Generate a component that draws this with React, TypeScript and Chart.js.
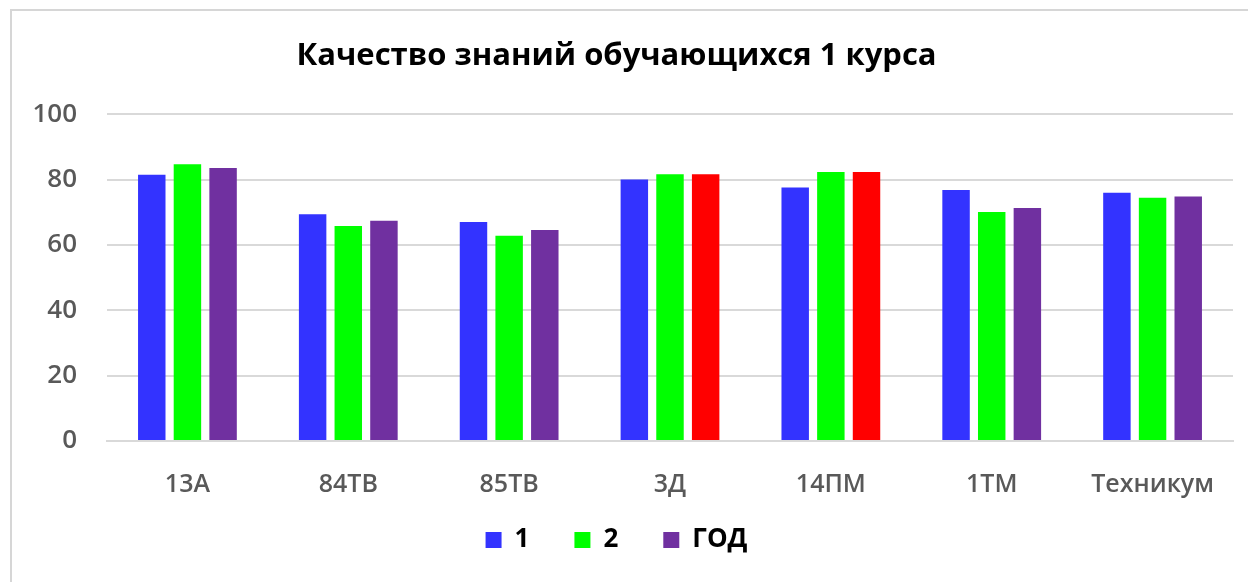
import React, { useEffect, useRef } from "react";
import { Chart, registerables } from "chart.js";

Chart.register(...registerables);

const title = "Качество знаний обучающихся 1 курса";
const categories = ["13А", "84ТВ", "85ТВ", "3Д", "14ПМ", "1ТМ", "Техникум"];
const seriesNames = ["1", "2", "ГОД"];
const series1 = [81.5, 69.4, 67.0, 80.0, 77.6, 76.8, 76.0];
const series2 = [84.7, 65.8, 62.8, 81.6, 82.3, 70.1, 74.4];
const seriesYear = [83.5, 67.4, 64.6, 81.6, 82.3, 71.3, 74.8];
const yTicks = [0, 20, 40, 60, 80, 100];

const BLUE = "#3333FF";
const GREEN = "#00FF00";
const PURPLE = "#7030A0";
const RED = "#FF0000";
const yearColors = [PURPLE, PURPLE, PURPLE, RED, RED, PURPLE, PURPLE];

export default function App() {
  const ref = useRef<HTMLCanvasElement | null>(null);

  useEffect(() => {
    if (!ref.current) return;
    const font = "'Open Sans', 'DejaVu Sans', sans-serif";
    const chart = new Chart(ref.current, {
      type: "bar",
      data: {
        labels: categories,
        datasets: [
          { label: seriesNames[0], data: series1, backgroundColor: BLUE },
          { label: seriesNames[1], data: series2, backgroundColor: GREEN },
          { label: seriesNames[2], data: seriesYear, backgroundColor: yearColors },
        ],
      },
      options: {
        responsive: false,
        animation: false,
        devicePixelRatio: 1,
        layout: { padding: { left: 0, right: 15, top: 0, bottom: 19 } },
        datasets: {
          bar: { categoryPercentage: 0.665, barPercentage: 0.77 },
        },
        plugins: {
          title: {
            display: true,
            text: title,
            color: "#000000",
            font: { family: font, size: 31, weight: "bold" },
            padding: { top: 38, bottom: 39 },
          },
          legend: {
            position: "bottom",
            labels: {
              color: "#000000",
              font: { family: font, size: 26, weight: "bold" },
              boxWidth: 16,
              boxHeight: 16,
              padding: 45,
            },
          },
          tooltip: { enabled: false },
        },
        scales: {
          x: {
            grid: { display: false, drawTicks: false },
            border: { color: "#d9d9d9", width: 2 },
            ticks: {
              color: "#595959",
              font: { family: font, size: 25, weight: "600" },
              padding: 29,
              maxRotation: 0,
            },
            afterFit: (s: any) => {
              s.height = 41;
              s._computeLabelArea = () => undefined;
            },
          },
          y: {
            min: 0,
            max: 100,
            afterBuildTicks: (s: any) => {
              s.ticks = yTicks.map((v) => ({ value: v }));
            },
            grid: { color: "#d9d9d9", lineWidth: 2, drawTicks: false },
            border: { display: false },
            ticks: {
              color: "#595959",
              font: { family: font, size: 26, weight: "600" },
              padding: 30,
            },
            afterFit: (s: any) => {
              s.width = 107;
            },
          },
        },
      },
    });
    return () => chart.destroy();
  }, []);

  return (
    <div
      style={{
        position: "fixed",
        left: 0,
        top: 0,
        width: 1248,
        height: 582,
        background: "#ffffff",
        overflow: "hidden",
      }}
    >
      <div
        style={{
          position: "absolute",
          left: 10,
          top: 9,
          width: 1400,
          height: 800,
          border: "2px solid #d6d6d6",
          boxSizing: "border-box",
        }}
      />
      <canvas
        ref={ref}
        width={1248}
        height={582}
        style={{ position: "absolute", left: 0, top: 0, width: 1248, height: 582 }}
      />
    </div>
  );
}
